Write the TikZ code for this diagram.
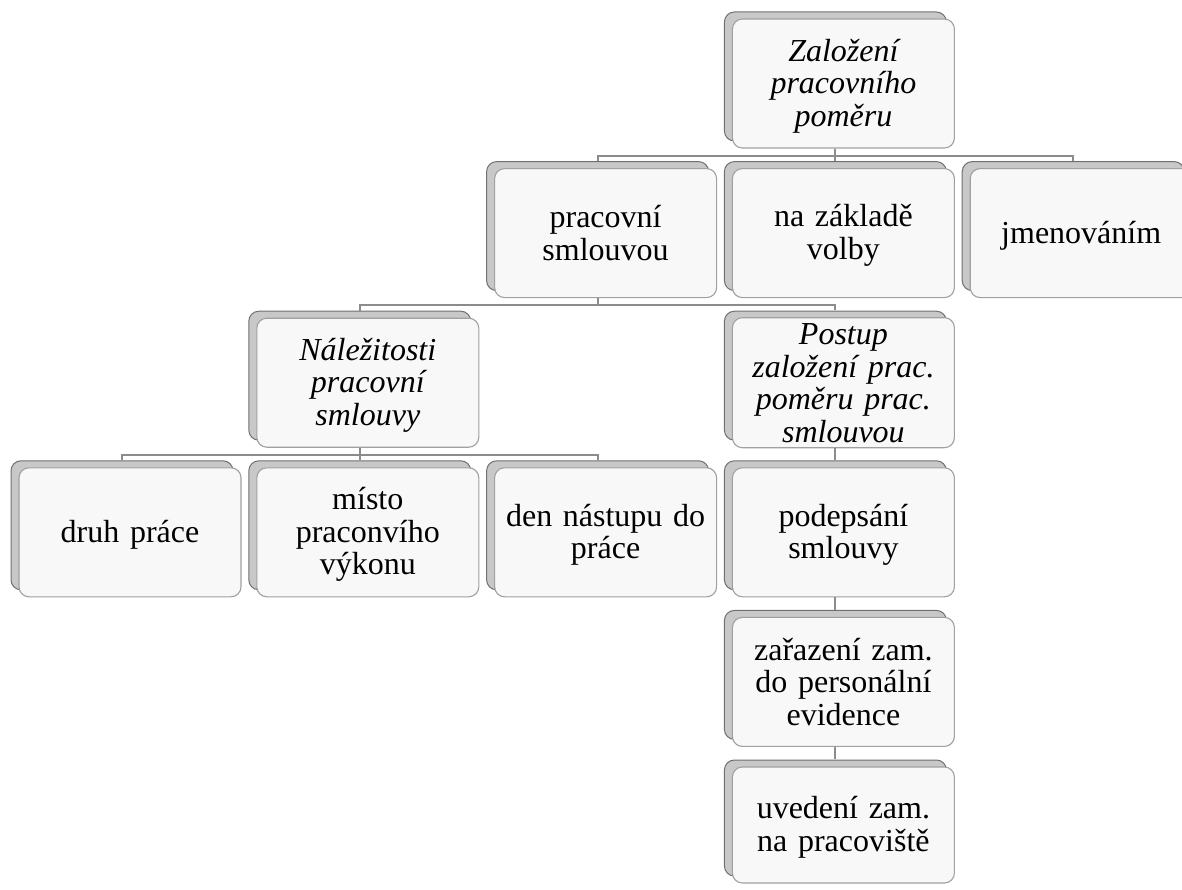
\documentclass[tikz,border=0pt]{standalone}
\usepackage{fontspec}
\setmainfont{Liberation Serif}
\definecolor{backfill}{HTML}{C8C8C8}
\definecolor{backline}{HTML}{707070}
\definecolor{frontfill}{HTML}{F8F8F8}
\definecolor{frontline}{HTML}{A0A0A0}
\definecolor{connline}{HTML}{8C8C8C}
\tikzset{
  backbox/.style={fill=backfill,draw=backline,line width=1pt,rounded corners=10pt},
  frontbox/.style={rectangle,fill=frontfill,draw=frontline,line width=1.1pt,rounded corners=10pt,
    minimum width=222pt,minimum height=129pt,inner sep=0pt,text width=205pt,align=center,
    font=\fontsize{32}{32.5}\selectfont},
  it/.style={font=\fontsize{32}{32.5}\selectfont\itshape},
  conn/.style={draw=connline,line width=2pt}
}
\newcommand\mybox[6][129]{%
  \draw[backbox] ({#3-119},{#4-#1/2-7}) rectangle ++(222,#1);
  \node[frontbox,minimum height=#1pt,#5] (#2) at (#3,#4)
    {\rule{0pt}{27pt}#6\rule[-5.5pt]{0pt}{5.5pt}};
}
\begin{document}
\begin{tikzpicture}[x=1pt,y=-1pt]
\useasboundingbox (0,0) rectangle (1182,890);
\fill[white] (0,0) rectangle (1182,890);
% columns: 130, 367.8, 605.6, 843.4, 1081.2 ; rows: 83.5, 233.1, 382.7, 532.3, 681.9
\mybox{top}{843.4}{83.5}{it}{Založení\\pracovního\\poměru}
\mybox{smlouva}{605.6}{233.1}{}{pracovní\\smlouvou}
\mybox{volba}{843.4}{233.1}{}{na základě\\volby}
\mybox{jmen}{1081.2}{233.1}{}{jmenováním}
\mybox{nalez}{367.8}{382.7}{it}{Náležitosti\\pracovní\\smlouvy}
\mybox{postup}{843.4}{382.7}{it}{Postup\\založení prac.\\poměru prac.\\smlouvou}
\mybox{druh}{130}{532.3}{}{druh práce}
\mybox{misto}{367.8}{532.3}{}{místo\\praconvího\\výkonu}
\mybox{den}{605.6}{532.3}{}{den nástupu do\\práce}
\mybox{podpis}{843.4}{532.3}{}{podepsání\\smlouvy}
\mybox{zarazeni}{843.4}{681.9}{}{zařazení zam.\\do personální\\evidence}
\mybox[116]{uvedeni}{843.4}{825}{}{uvedení zam.\\na pracoviště}
% connectors
\foreach \p/\c in {top/smlouva,top/volba,top/jmen,smlouva/nalez,smlouva/postup,nalez/druh,nalez/misto,nalez/den}{
  \draw[conn] ([xshift=-8pt]\p.south) -- ++(0pt,-7pt) -| ([xshift=-8pt,yshift=7pt]\c.north);
}
\foreach \p/\c in {postup/podpis,podpis/zarazeni,zarazeni/uvedeni}{
  \draw[conn] ([xshift=-8pt]\p.south) -- ([xshift=-8pt,yshift=7pt]\c.north);
}
\end{tikzpicture}
\end{document}
